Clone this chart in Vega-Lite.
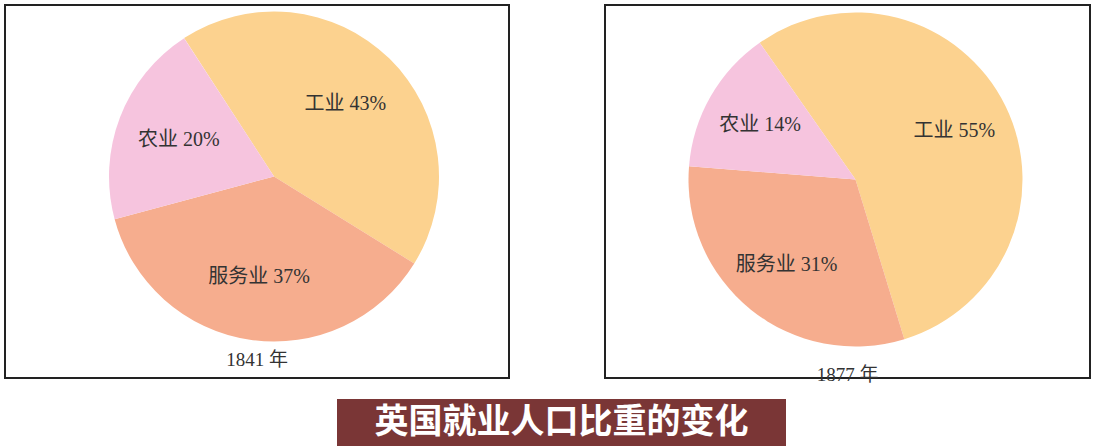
{
  "$schema": "https://vega.github.io/schema/vega-lite/v6.json",
  "padding": {"left": 4, "top": 4, "right": 0, "bottom": 0},
  "background": "white",
  "datasets": {
    "shares": [
      {"year": "1841", "sector": "工业", "pct": 43, "idx": 1, "label": "工业 43%"},
      {"year": "1841", "sector": "服务业", "pct": 37, "idx": 2, "label": "服务业 37%"},
      {"year": "1841", "sector": "农业", "pct": 20, "idx": 3, "label": "农业 20%"},
      {"year": "1877", "sector": "工业", "pct": 55, "idx": 1, "label": "工业 55%"},
      {"year": "1877", "sector": "服务业", "pct": 31, "idx": 2, "label": "服务业 31%"},
      {"year": "1877", "sector": "农业", "pct": 14, "idx": 3, "label": "农业 14%"}
    ],
    "caption": [{"text": "英国就业人口比重的变化"}],
    "blank": [{"text": ""}]
  },
  "vconcat": [
    {
      "hconcat": [
        {
          "width": 504,
          "height": 373,
          "view": {"stroke": "#222", "strokeWidth": 2},
          "title": {"text": "1841 年", "orient": "bottom", "offset": -27, "font": "Liberation Serif, Noto Sans CJK SC", "fontSize": 19, "fontWeight": "normal", "color": "#333"},
          "data": {"name": "shares"},
          "transform": [{"filter": "datum.year == '1841'"}],
          "encoding": {
            "theta": {"field": "pct", "type": "quantitative", "stack": true, "scale": {"range": [-0.576, 5.707]}},
            "order": {"field": "idx", "type": "quantitative"}
          },
          "layer": [
            {
              "mark": {"type": "arc", "outerRadius": 165, "xOffset": 17, "yOffset": -15},
              "encoding": {
                "color": {"field": "sector", "type": "nominal", "legend": null, "scale": {"domain": ["工业", "服务业", "农业"], "range": ["#fcd28f", "#f6ad8e", "#f6c4de"]}}
              }
            },
            {
              "mark": {"type": "text", "radius": 102, "xOffset": 17, "yOffset": -15, "font": "Liberation Serif, Noto Sans CJK SC", "fontSize": 20, "fill": "#333"},
              "encoding": {"text": {"field": "label"}}
            }
          ]
        },
        {
          "width": 485,
          "height": 373,
          "view": {"stroke": "#222", "strokeWidth": 2},
          "title": {"text": "1877 年", "orient": "bottom", "offset": -12, "font": "Liberation Serif, Noto Sans CJK SC", "fontSize": 19, "fontWeight": "normal", "color": "#333"},
          "data": {"name": "shares"},
          "transform": [{"filter": "datum.year == '1877'"}],
          "encoding": {
            "theta": {"field": "pct", "type": "quantitative", "stack": true, "scale": {"range": [-0.611, 5.672]}},
            "order": {"field": "idx", "type": "quantitative"}
          },
          "layer": [
            {
              "mark": {"type": "arc", "outerRadius": 167, "xOffset": 8, "yOffset": -12},
              "encoding": {
                "color": {"field": "sector", "type": "nominal", "legend": null, "scale": {"domain": ["工业", "服务业", "农业"], "range": ["#fcd28f", "#f6ad8e", "#f6c4de"]}}
              }
            },
            {
              "mark": {"type": "text", "radius": 110, "xOffset": 8, "yOffset": -12, "font": "Liberation Serif, Noto Sans CJK SC", "fontSize": 20, "fill": "#333"},
              "encoding": {"text": {"field": "label"}}
            }
          ]
        }
      ],
      "spacing": 94,
      "resolve": {"scale": {"theta": "independent", "color": "shared"}}
    },
    {
      "hconcat": [
        {
          "width": 1,
          "height": 47,
          "view": {"stroke": null},
          "data": {"name": "blank"},
          "mark": {"type": "text"},
          "encoding": {"text": {"field": "text"}}
        },
        {
          "width": 449,
          "height": 47,
          "view": {"stroke": null, "fill": "#7a3636"},
          "data": {"name": "caption"},
          "mark": {"type": "text", "font": "Noto Sans CJK SC", "fontSize": 34, "fontWeight": "bold", "fill": "white", "align": "center", "baseline": "middle"},
          "encoding": {"text": {"field": "text"}}
        }
      ],
      "spacing": 331
    }
  ],
  "spacing": 13,
  "config": {"view": {"stroke": null}}
}
